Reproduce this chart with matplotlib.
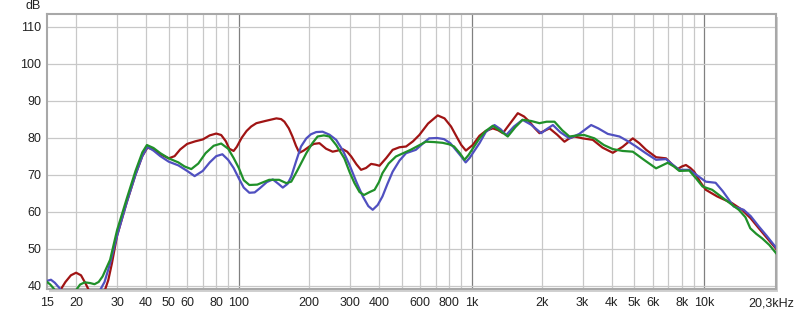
import matplotlib
matplotlib.use("Agg")
import matplotlib.pyplot as plt
from matplotlib.patches import Rectangle
from matplotlib.transforms import ScaledTranslation

plt.rcParams['font.family'] = ['Liberation Sans', 'DejaVu Sans']

# Frequenzgang, drei Messungen (Hz, dB)
red_f = [17, 18, 19, 20, 21, 22, 22.6, 24, 25.5, 26.5, 27.5, 28.5, 30, 33, 36, 38.5, 40.5, 43, 46,
         50, 53, 56, 60, 65, 70, 75, 80, 84, 88, 91, 95, 98, 103, 108, 113, 119, 130, 145, 152,
         157, 164, 170, 176, 182, 190, 201, 210, 222, 237, 253, 266, 279, 292, 304, 320, 335, 352,
         370, 386, 402, 430, 458, 490, 523, 560, 596, 650, 715, 765, 816, 870, 903, 945, 1011,
         1081, 1150, 1233, 1300, 1362, 1450, 1579, 1680, 1773, 1870, 1957, 2050, 2161, 2330,
         2505, 2630, 2765, 3000, 3315, 3650, 4042, 4450, 4925, 5250, 5620, 6200, 6843, 7250,
         7669, 8000, 8330, 8700, 9040, 9600, 10140, 11350, 12200, 13140, 14510, 15800, 17130,
         18500, 20300]
red_db = [38.5, 41, 42.8, 43.5, 42.8, 40.5, 39, 36, 36, 38.5, 41.5, 46, 53.5, 62.5, 70, 75, 77.3,
          76.8, 75.5, 74.4, 75, 76.8, 78.3, 79, 79.5, 80.6, 81.1, 80.7, 79, 77, 76.4, 77.5, 80,
          81.8, 83, 83.9, 84.5, 85.2, 85, 84.3, 82.5, 80.3, 77.8, 75.9, 76.5, 77.6, 78.3, 78.5,
          77, 76.2, 76.5, 76.9, 76.2, 74.9, 72.8, 71.3, 71.8, 72.9, 72.7, 72.4, 74.5, 76.7, 77.4,
          77.6, 79, 80.7, 83.8, 86, 85.2, 83, 79.8, 78, 76.5, 78, 80.5, 81.8, 82.5, 82, 81.2,
          83.5, 86.6, 85.7, 84.3, 82.5, 81.2, 81.8, 82.5, 80.8, 78.9, 79.8, 80.3, 79.8, 79.4,
          77.3, 75.9, 77.5, 79.8, 78.5, 76.7, 74.7, 74.4, 72.8, 71.5, 72.2, 72.6, 71.8, 70.8, 68,
          65.9, 64.1, 63.2, 62.3, 60.5, 58.2, 55.5, 53, 50]

blue_f = [15, 15.6, 16.2, 17, 17.8, 24, 25.2, 26.5, 28, 30, 33, 36, 38.5, 40.5, 43, 46, 50, 55,
          60, 64.6, 70, 75, 80, 85, 90, 95, 100, 105, 111, 117, 123, 132, 140, 148, 154.5, 162,
          168, 176, 185, 195, 204, 215, 229, 245, 262, 280, 299, 320, 341, 360, 376, 395, 414,
          435, 458, 490, 523, 576, 620, 657, 710, 761, 810, 855, 900, 943, 980, 1081, 1150, 1254,
          1330, 1408, 1520, 1655, 1800, 1990, 2100, 2235, 2400, 2631, 2900, 3262, 3500, 3847,
          4318, 4700, 5090, 5600, 6200, 6843, 7300, 7800, 8610, 9300, 10140, 11170, 12000, 13360,
          14740, 15800, 17130, 18500, 20300]
blue_db = [41.3, 41.6, 40.8, 39.3, 37.5, 36, 38.5, 41, 46, 53.5, 62.5, 70, 75, 77.5, 76.5, 75,
           73.5, 72.5, 71, 69.6, 71, 73.3, 75, 75.5, 74, 71.8, 69, 66.5, 65.1, 65.2, 66.3, 68,
           68.7, 67.5, 66.5, 67.5, 69.5, 73.5, 77.6, 79.8, 80.9, 81.5, 81.6, 80.8, 79.4, 76.5,
           72.6, 68, 64.1, 61.5, 60.5, 61.8, 64.1, 67.5, 70.8, 73.8, 75.8, 76.7, 78.5, 79.8, 79.9,
           79.6, 78.5, 76.7, 75, 73.3, 74.5, 78.5, 81.5, 83.4, 82.3, 80.7, 83, 84.8, 83.5, 81.2,
           82.3, 83.4, 81.5, 79.8, 81, 83.4, 82.5, 81, 80.3, 79, 77.6, 75.8, 74, 74.2, 72.7, 71.3,
           71.3, 69.8, 68.1, 67.8, 65.5, 61.4, 60.5, 58.8, 56, 53.5, 50.3]

green_f = [15, 15.5, 16, 16.5, 19, 20, 20.8, 21.8, 23, 24, 25, 26, 28, 30, 33, 36, 38.5, 40.3, 43,
           46, 50, 55, 58.5, 62.5, 67, 72, 78, 84, 90, 95, 100, 105, 111, 120, 135, 149, 160, 168,
           178, 195, 207, 218, 232, 245, 262, 284, 300, 314, 330, 345, 365, 383, 400, 414, 440,
           473, 547, 590, 636, 690, 750, 800, 841, 890, 932, 970, 1081, 1150, 1233, 1330, 1430,
           1540, 1655, 1800, 1957, 2100, 2270, 2450, 2631, 2850, 3045, 3370, 3700, 4042, 4450,
           4925, 5500, 6200, 6950, 7400, 7800, 8610, 9200, 9810, 10800, 12300, 14050, 15000, 15740,
           16700, 17690, 19000, 20300]
green_db = [41, 40.3, 39.3, 38, 37, 38.8, 40.3, 40.9, 40.7, 40.4, 41, 42.5, 47, 55, 63.5, 71, 76,
            78, 77.2, 75.8, 74.4, 73.3, 72.2, 71.5, 73, 75.8, 77.8, 78.4, 77, 74.5, 71.8, 68.5,
            67.2, 67.3, 68.6, 68.6, 67.7, 68.1, 71, 75.8, 78.5, 80.3, 80.6, 80.3, 78, 74.4, 70.5,
            67.7, 65.3, 64.5, 65.3, 65.9, 68, 70.4, 73, 74.9, 76.7, 77.8, 78.9, 78.8, 78.6, 78.2,
            77.6, 75.8, 74, 75.3, 79.8, 81.8, 83.2, 81.8, 80.3, 82.8, 84.8, 84.5, 83.9, 84.3, 84.3,
            82, 80.3, 80.6, 80.7, 79.8, 78, 76.9, 76.4, 76.2, 74, 71.7, 73.2, 72.2, 71, 71.1, 69,
            66.8, 65.9, 63.2, 60.5, 58.5, 55.5, 54, 52.8, 51, 48.8]

tick_f = [15, 20, 30, 40, 50, 60, 80, 100, 200, 300, 400, 600, 800, 1000, 2000, 3000, 4000,
          5000, 6000, 8000, 10000, 20300]
tick_lbl = ["15", "20", "30", "40", "50", "60", "80", "100", "200", "300", "400", "600", "800",
            "1k", "2k", "3k", "4k", "5k", "6k", "8k", "10k", "20,3kHz"]
y_ticks = [40, 50, 60, 70, 80, 90, 100, 110]

fig = plt.figure(figsize=(8, 3.11), dpi=100)
ax = fig.add_axes([47 / 800, 22 / 311, 729 / 800, 275 / 311])
ax.set_zorder(2)

# Schatten rechts/unten
fig.patches.append(Rectangle((49 / 800, 19 / 311), 729 / 800, 275 / 311,
                             transform=fig.transFigure, facecolor="#d0d0d0",
                             edgecolor="none", zorder=-1))

# Gitter
for dec in [10, 100, 1000]:
    for m in range(2, 10):
        ax.axvline(dec * m, color="#c8c8c8", lw=0.9, zorder=1)
for dec in [100, 1000, 10000]:
    ax.axvline(dec, color="#808080", lw=0.9, zorder=1)
for y in y_ticks:
    ax.axhline(y, color="#c8c8c8", lw=0.9, zorder=1)

ax.plot(red_f, red_db, color="#a01414", lw=1.6, zorder=3)
ax.plot(blue_f, blue_db, color="#5050c0", lw=1.6, zorder=4)
ax.plot(green_f, green_db, color="#20902a", lw=1.6, zorder=5)

ax.set_xscale("log")
ax.set_xlim(15, 20300)
ax.set_ylim(39.1, 113.4)
ax.minorticks_off()
ax.set_xticks(tick_f)
ax.set_xticklabels(tick_lbl)
ax.set_yticks(y_ticks)
ax.tick_params(length=0, labelsize=9, colors="#222222", pad=4)
ax.tick_params(axis="x", pad=6)
last = ax.get_xticklabels()[-1]
last.set_transform(last.get_transform() + ScaledTranslation(-5 / 100, 0, fig.dpi_scale_trans))

for s in ax.spines.values():
    s.set_color("#a8a8a8")
    s.set_linewidth(1.5)

fig.text(33 / 800, 1 - 6 / 311, "dB", ha="center", va="center", fontsize=9, color="#222222")

fig.savefig("out.png", dpi=100)
